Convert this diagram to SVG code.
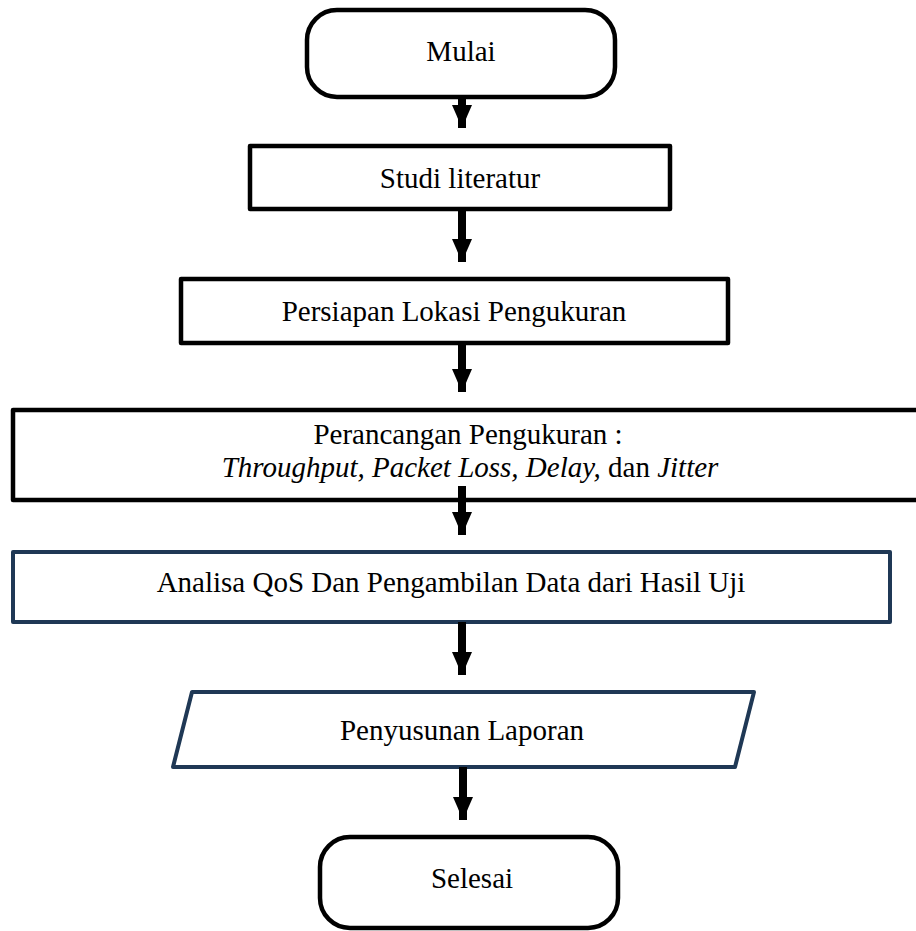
<svg xmlns="http://www.w3.org/2000/svg" width="916" height="931" viewBox="0 0 916 931">
<style>
.t{font-family:"Liberation Serif","Times New Roman",serif;font-size:29px;fill:#000;text-anchor:middle}
.i{font-style:italic}
.k{fill:#fff;stroke:#000;stroke-width:4.5;stroke-linejoin:round}
.n{fill:#fff;stroke:#1F3855;stroke-width:4;stroke-linejoin:round}
.c line{stroke:#000;stroke-width:8}
</style>
<defs>
<marker id="ah" viewBox="0 0 23 20" refX="23" refY="10" markerWidth="23" markerHeight="20" markerUnits="userSpaceOnUse" orient="auto">
<path d="M0,0 L23,10 L0,20 Z" fill="#000"/>
</marker>
</defs>
<rect width="916" height="931" fill="#fff"/>
<g id="n1"><rect class="k" x="307" y="10" width="308" height="87" rx="30"/><text class="t" x="461" y="61">Mulai</text></g>
<g id="n2"><rect class="k" x="250" y="146" width="420" height="63"/><text class="t" x="460" y="188">Studi literatur</text></g>
<g id="n3"><rect class="k" x="181" y="279" width="547" height="64"/><text class="t" x="454" y="321">Persiapan Lokasi Pengukuran</text></g>
<g id="n4"><path class="k" d="M930,410 L13,410 L13,500 L930,500"/><text class="t" x="468" y="444">Perancangan Pengukuran :</text><text class="t" x="470" y="477"><tspan class="i">Throughput, Packet Loss, Delay,</tspan> dan <tspan class="i">Jitter</tspan></text></g>
<g id="n5"><rect class="n" x="13" y="552" width="877" height="70"/><text class="t" x="451" y="592">Analisa QoS Dan Pengambilan Data dari Hasil Uji</text></g>
<g id="n6"><path class="n" d="M192,692 L754,692 L735,767 L173,767 Z"/><text class="t" x="462" y="740">Penyusunan Laporan</text></g>
<g id="n7"><rect class="k" x="320" y="837" width="298" height="91" rx="30"/><text class="t" x="472" y="888">Selesai</text></g>
<g class="c" id="connectors">
<line x1="462" y1="97" x2="462" y2="128" marker-end="url(#ah)"/>
<line x1="462" y1="209" x2="462" y2="262" marker-end="url(#ah)"/>
<line x1="462" y1="343" x2="462" y2="392" marker-end="url(#ah)"/>
<line x1="462" y1="486" x2="462" y2="535" marker-end="url(#ah)"/>
<line x1="462" y1="622" x2="462" y2="675" marker-end="url(#ah)"/>
<line x1="463" y1="767" x2="463" y2="820" marker-end="url(#ah)"/>
</g>
</svg>
